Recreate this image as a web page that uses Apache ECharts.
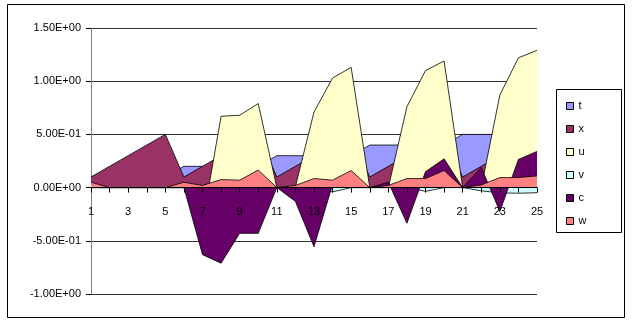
<!DOCTYPE html>
<html>
<head>
<meta charset="utf-8">
<script src="https://cdn.jsdelivr.net/npm/echarts@6/dist/echarts.min.js"></script>
<style>
  html, body { margin: 0; padding: 0; background: #fff; }
  #main { width: 637px; height: 325px; }
</style>
</head>
<body>
<div id="main"></div>
<script>
// 类别 1..25
var categories = ['1','2','3','4','5','6','7','8','9','10','11','12','13','14','15','16','17','18','19','20','21','22','23','24','25'];

// 各系列数值
var tData = [0.1, 0.1, 0.1, 0.1, 0.1, 0.2, 0.2, 0.2, 0.2, 0.2, 0.3, 0.3, 0.3, 0.3, 0.3, 0.4, 0.4, 0.4, 0.4, 0.4, 0.5, 0.5, 0.5, 0.5, 0.5];
var xData = [0.1, 0.2, 0.3, 0.4, 0.5, 0.1, 0.2, 0.3, 0.4, 0.5, 0.1, 0.2, 0.3, 0.4, 0.5, 0.1, 0.2, 0.3, 0.4, 0.5, 0.1, 0.2, 0.3, 0.4, 0.5];
var uData = [0, 0, 0, 0, 0, 0, -0.33, 0.67, 0.68, 0.79, 0, 0.01, 0.71, 1.03, 1.13, 0, 0, 0.76, 1.1, 1.19, 0, 0, 0.87, 1.22, 1.29];
var vData = [0, 0, 0, 0, 0, 0, 0, 0, 0, 0, 0, 0, 0, -0.04, 0, 0, 0, 0, -0.035, 0, 0, -0.03, -0.05, -0.053, -0.048];
var cData = [0, 0, 0, 0, 0, 0, -0.63, -0.71, -0.43, -0.43, 0, -0.13, -0.556, 0.03, 0, 0, 0.05, -0.335, 0.15, 0.27, 0, 0.19, -0.225, 0.265, 0.34];
var wData = [0.05, 0, 0, 0, 0, 0.05, 0.02, 0.075, 0.07, 0.165, 0, 0.02, 0.085, 0.07, 0.16, 0, 0.02, 0.085, 0.085, 0.16, 0, 0.025, 0.094, 0.094, 0.11];

var seriesNames = ['t', 'x', 'u', 'v', 'c', 'w'];
var seriesColors = ['#9999FF', '#993366', '#FFFFCC', '#CCFFFF', '#660066', '#FF8080'];
var seriesData = [tData, xData, uData, vData, cData, wData];

// y轴刻度
var yMin = -1, yMax = 1.5, yStep = 0.5;

// 科学计数法 1.50E+00
function sci(v) {
    if (Math.abs(v) < 1e-12) return '0.00E+00';
    var e = Math.floor(Math.log10(Math.abs(v)) + 1e-9);
    var m = v / Math.pow(10, e);
    var ae = Math.abs(e);
    return m.toFixed(2) + 'E' + (e < 0 ? '-' : '+') + (ae < 10 ? '0' : '') + ae;
}

var gridTop = 28, gridBottom = 31, chartH = 325;
// x轴放在 0 的位置
var plotH = chartH - gridTop - gridBottom;
var zeroOffset = -plotH * (0 - yMin) / (yMax - yMin);

var chart = echarts.init(document.getElementById('main'));

var series = [];
for (var i = 0; i < seriesNames.length; i++) {
    series.push({
        name: seriesNames[i],
        type: 'line',
        data: seriesData[i],
        symbol: 'none',
        color: seriesColors[i],
        z: 2 + i,
        lineStyle: { color: '#000', width: 0.8 },
        areaStyle: { color: seriesColors[i], opacity: 1, origin: 0 },
        animation: false
    });
}

var option = {
    backgroundColor: '#fff',
    textStyle: { fontFamily: 'Liberation Sans, Arial, sans-serif' },
    grid: { left: 91, right: 100, top: gridTop, bottom: gridBottom },
    xAxis: {
        type: 'category',
        data: categories,
        boundaryGap: false,
        offset: zeroOffset,
        z: 20,
        axisLine: { onZero: false, lineStyle: { color: '#000', width: 1 } },
        axisTick: { show: true, interval: 0, length: 5, lineStyle: { color: '#000' } },
        axisLabel: { interval: 1, margin: 19, fontSize: 11, color: '#000' },
        splitLine: { show: false }
    },
    yAxis: {
        type: 'value',
        min: yMin,
        max: yMax,
        interval: yStep,
        axisLine: { show: true, lineStyle: { color: '#808080', width: 1 } },
        axisTick: { show: true, length: 5, lineStyle: { color: '#000' } },
        axisLabel: { margin: 10, fontSize: 11, color: '#000', formatter: sci, padding: [5, 0, 0, 0] },
        splitLine: { show: true, lineStyle: { color: '#333', width: 1 } }
    },
    legend: {
        orient: 'vertical',
        left: 561,
        top: 95,
        itemWidth: 7,
        itemHeight: 7,
        itemGap: 11,
        icon: 'rect',
        itemStyle: { borderColor: '#000', borderWidth: 1 },
        textStyle: { fontSize: 11, color: '#000', lineHeight: 12 },
        data: seriesNames
    },
    graphic: [
        {
            type: 'rect',
            shape: { x: 7.5, y: 4.5, width: 617, height: 313 },
            style: { fill: 'none', stroke: '#000', lineWidth: 1 },
            z: 100
        },
        {
            type: 'rect',
            shape: { x: 556.5, y: 89.5, width: 65, height: 143 },
            style: { fill: 'none', stroke: '#000', lineWidth: 1 },
            z: 100
        }
    ],
    series: series
};

chart.setOption(option);
</script>
</body>
</html>
